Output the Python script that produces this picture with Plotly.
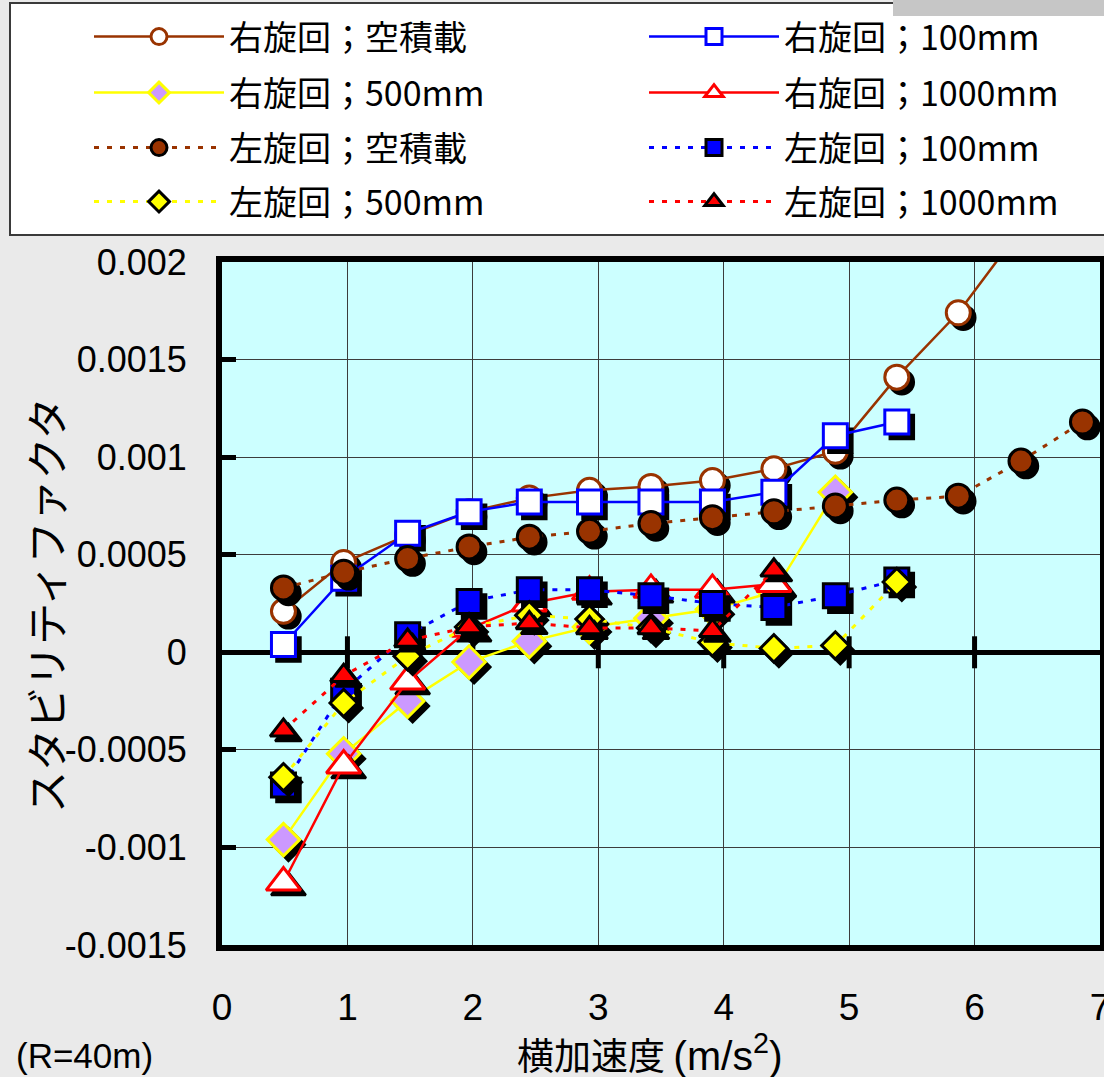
import plotly.graph_objects as go

# ---------------- data ----------------
series_names = [
    "右旋回；空積載", "右旋回；100mm", "右旋回；500mm", "右旋回；1000mm",
    "左旋回；空積載", "左旋回；100mm", "左旋回；500mm", "左旋回；1000mm",
]

x_r_empty = [0.49, 0.97, 1.48, 1.97, 2.45, 2.93, 3.42, 3.91, 4.40, 4.89, 5.38, 5.87, 6.37]
y_r_empty = [0.00021, 0.00046, 0.00060, 0.00072, 0.00079, 0.00083, 0.00085, 0.00088, 0.00094, 0.00103, 0.00141, 0.00174, 0.00217]

x_r_100 = [0.49, 0.97, 1.48, 1.97, 2.45, 2.93, 3.42, 3.91, 4.40, 4.89, 5.38]
y_r_100 = [0.00004, 0.00038, 0.00061, 0.00072, 0.00077, 0.00077, 0.00077, 0.00077, 0.00082, 0.00111, 0.00118]

x_r_500 = [0.49, 0.97, 1.48, 1.97, 2.45, 2.93, 3.42, 3.91, 4.40, 4.89]
y_r_500 = [-0.00096, -0.00052, -0.00025, -0.00005, 0.000056, 0.00013, 0.000175, 0.00022, 0.00031, 0.00082]

x_r_1000 = [0.49, 0.97, 1.48, 1.97, 2.45, 2.93, 3.42, 3.91, 4.40]
y_r_1000 = [-0.00118, -0.00058, -0.00015, 0.00012, 0.00025, 0.00031, 0.00032, 0.00032, 0.00035]

x_l_empty = [0.49, 0.97, 1.48, 1.97, 2.45, 2.93, 3.42, 3.91, 4.40, 4.89, 5.38, 5.87, 6.37, 6.86]
y_l_empty = [0.00033, 0.00041, 0.00048, 0.00054, 0.00059, 0.00062, 0.00066, 0.00069, 0.00072, 0.00075, 0.00078, 0.00080, 0.00098, 0.00118]

x_l_100 = [0.49, 0.97, 1.48, 1.97, 2.45, 2.93, 3.42, 3.91, 4.40, 4.89, 5.38]
y_l_100 = [-0.00068, -0.00020, 0.00009, 0.00026, 0.00032, 0.00032, 0.00029, 0.00025, 0.00023, 0.00029, 0.00037]

x_l_500 = [0.49, 0.97, 1.48, 1.97, 2.45, 2.93, 3.42, 3.91, 4.40, 4.89, 5.38]
y_l_500 = [-0.00064, -0.00026, -0.00002, 0.00013, 0.00019, 0.00017, 0.000125, 0.00005, 0.00002, 0.000035, 0.00036]

x_l_1000 = [0.49, 0.97, 1.48, 1.97, 2.45, 2.93, 3.42, 3.91, 4.40]
y_l_1000 = [-0.00040, -0.00012, 0.00006, 0.00013, 0.00015, 0.000125, 0.000125, 0.00011, 0.00042]

x_tick_vals = [0, 1, 2, 3, 4, 5, 6, 7]
x_tick_labels = ["0", "1", "2", "3", "4", "5", "6", "7"]
x_zero_ticks = [1, 2, 3, 4, 5, 6]
y_tick_vals = [-0.0015, -0.001, -0.0005, 0, 0.0005, 0.001, 0.0015, 0.002]
y_tick_labels = ["-0.0015", "-0.001", "-0.0005", "0", "0.0005", "0.001", "0.0015", "0.002"]

x_title = ("横加速度 <span style='font-family:Liberation Sans, Arial, sans-serif;font-size:41px'>"
           "(m/s<sup>2</sup>)</span>")
y_title = "スタビリティファクタ"
note_text = "(R=40m)"

# ---------------- layout geometry ----------------
W, H = 1104, 1077
ML, MR, MT, MB = 222, 4, 262, 132
PW, PH = W - ML - MR, H - MT - MB
XR = [0, 7]
YR = [-0.0015, 0.002]


def px_x(p):
    return (p - ML) / PW


def px_y(p):
    return (H - MB - p) / PH


SHADOW_PX = 5
dx = SHADOW_PX * (XR[1] - XR[0]) / PW
dy = -SHADOW_PX * (YR[1] - YR[0]) / PH

BROWN = "#993300"
BLUE = "#0000FF"
YELLOW = "#FFFF00"
RED = "#FF0000"
LAV = "#CC99FF"

data = [
    (x_r_empty, y_r_empty), (x_r_100, y_r_100), (x_r_500, y_r_500), (x_r_1000, y_r_1000),
    (x_l_empty, y_l_empty), (x_l_100, y_l_100), (x_l_500, y_l_500), (x_l_1000, y_l_1000),
]

styles = [
    dict(color=BROWN, dash="solid", symbol="circle", size=24, fill="white", edge=BROWN),
    dict(color=BLUE, dash="solid", symbol="square", size=24, fill="white", edge=BLUE),
    dict(color=YELLOW, dash="solid", symbol="diamond", size=25, fill=LAV, edge=YELLOW),
    dict(color=RED, dash="solid", symbol="triangle-up", size=30, fill="white", edge=RED),
    dict(color=BROWN, dash="5px,8px", symbol="circle", size=24, fill=BROWN, edge="black"),
    dict(color=BLUE, dash="5px,8px", symbol="square", size=24, fill=BLUE, edge="black"),
    dict(color=YELLOW, dash="5px,8px", symbol="diamond", size=21, fill=YELLOW, edge="black"),
    dict(color=RED, dash="5px,8px", symbol="triangle-up", size=23, fill=RED, edge="black"),
]
legend_ids = ["legend" if i == 0 else "legend%d" % (i + 1) for i in range(len(series_names))]

fig = go.Figure()
for (xs, ys), st, name, lg in zip(data, styles, series_names, legend_ids):
    # marker shadow
    fig.add_trace(go.Scatter(
        x=[v + dx for v in xs], y=[v + dy for v in ys], mode="markers",
        marker=dict(symbol=st["symbol"], size=st["size"], color="black",
                    line=dict(width=2.5, color="black")),
        showlegend=False, hoverinfo="skip"))
    fig.add_trace(go.Scatter(
        x=xs, y=ys, mode="lines+markers", name=name, legend=lg,
        line=dict(color=st["color"], width=3 if st["dash"] != "solid" else 2.5, dash=st["dash"]),
        marker=dict(symbol=st["symbol"], size=st["size"], color=st["fill"],
                    line=dict(width=3, color=st["edge"]))))

shapes = []
# legend box
shapes.append(dict(type="rect", xref="paper", yref="paper",
                   x0=px_x(10), x1=px_x(1112), y0=px_y(235), y1=px_y(3),
                   fillcolor="white", line=dict(color="#3a3a3a", width=2), layer="below"))
shapes.append(dict(type="rect", xref="paper", yref="paper",
                   x0=px_x(893), x1=px_x(1106), y0=px_y(16), y1=px_y(-2),
                   fillcolor="#c6c6c6", line=dict(width=0), layer="below"))
# ticks crossing the zero line
for k in x_zero_ticks:
    shapes.append(dict(type="line", xref="x", yref="y", x0=k, x1=k,
                       ysizemode="pixel", yanchor=0, y0=-16, y1=16,
                       line=dict(color="black", width=5), layer="between"))

row_px = [37, 93, 148, 202]
col_px = [89, 644]
legends = {}
for i, lg in enumerate(legend_ids):
    legends[lg] = dict(orientation="h", xanchor="left", yanchor="middle",
                       x=px_x(col_px[i % 2]), y=px_y(row_px[i // 2]),
                       bgcolor="rgba(0,0,0,0)", borderwidth=0,
                       font=dict(family="Noto Sans CJK JP", size=34, color="black"),
                       itemwidth=130, itemclick=False, itemdoubleclick=False)

fig.update_layout(
    width=W, height=H,
    margin=dict(l=ML, r=MR, t=MT, b=MB, autoexpand=False),
    paper_bgcolor="#EAEAEA", plot_bgcolor="#CCFFFF",
    font=dict(family="Liberation Sans, Arial, sans-serif", color="black"),
    shapes=shapes,
    xaxis=dict(range=XR, tickvals=x_tick_vals, ticktext=x_tick_labels,
               showline=True, linewidth=6, linecolor="black", mirror=True,
               showgrid=True, gridcolor="#3c3c3c", gridwidth=1, zeroline=False,
               ticks="", ticklabelstandoff=25, ticklabeloverflow="allow",
               tickfont=dict(size=37, family="Liberation Sans, Arial, sans-serif")),
    yaxis=dict(range=YR, tickvals=y_tick_vals, ticktext=y_tick_labels,
               showline=True, linewidth=6, linecolor="black", mirror=True,
               showgrid=True, gridcolor="#3c3c3c", gridwidth=1,
               zeroline=True, zerolinecolor="black", zerolinewidth=5,
               ticks="inside", ticklen=14, tickwidth=5, tickcolor="black",
               ticklabelstandoff=22, ticklabeloverflow="allow",
               tickfont=dict(size=36, family="Liberation Sans, Arial, sans-serif")),
    annotations=[
        dict(text=x_title, xref="paper", yref="paper", x=px_x(650), y=px_y(1054),
             xanchor="center", yanchor="middle", showarrow=False,
             font=dict(family="Noto Sans CJK JP", size=37, color="black")),
        dict(text=y_title, xref="paper", yref="paper", x=px_x(44), y=px_y(605),
             xanchor="center", yanchor="middle", showarrow=False, textangle=-90,
             font=dict(family="Noto Sans CJK JP", size=42, color="black")),
        dict(text=note_text, xref="paper", yref="paper", x=px_x(14), y=px_y(1055),
             xanchor="left", yanchor="middle", showarrow=False,
             font=dict(family="Liberation Sans, Arial, sans-serif", size=35, color="black")),
    ],
)
fig.update_layout(**legends)

fig.write_html("out.html", config={"displayModeBar": False},
               post_script="document.body.style.margin='0';")
